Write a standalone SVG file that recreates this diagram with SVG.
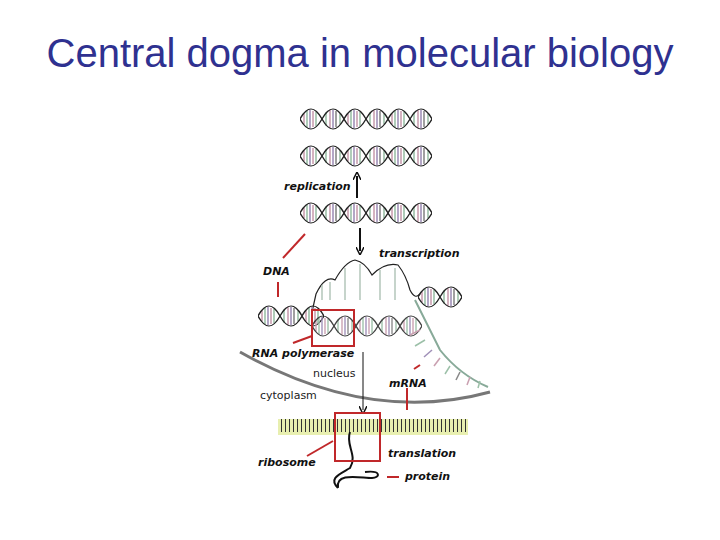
<svg xmlns="http://www.w3.org/2000/svg" width="720" height="540" viewBox="0 0 720 540">
<style>
.lab{font-family:"DejaVu Sans",sans-serif;font-size:11px;font-weight:bold;font-style:italic;fill:#111}
.reg{font-family:"DejaVu Sans",sans-serif;font-size:11px;fill:#222}
.red{stroke:#c0282a;stroke-width:2;fill:none}
.st{fill:none;stroke:#222;stroke-width:1.2}
</style>
<defs>
<pattern id="helix" x="0" y="0" width="22" height="24" patternUnits="userSpaceOnUse" patternTransform="scale(2,1)">
<line x1="2" y1="7" x2="2" y2="17" stroke="#c9a0b0" stroke-width="0.8"/>
<line x1="3.5" y1="4" x2="3.5" y2="20" stroke="#9cc0a8" stroke-width="0.8"/>
<line x1="5" y1="3" x2="5" y2="21" stroke="#a090b8" stroke-width="0.8"/>
<line x1="6.5" y1="4" x2="6.5" y2="20" stroke="#c9a0b0" stroke-width="0.8"/>
<line x1="8" y1="5" x2="8" y2="19" stroke="#9cc0a8" stroke-width="0.8"/>
<line x1="13" y1="5" x2="13" y2="19" stroke="#9cc0a8" stroke-width="0.8"/>
<line x1="15" y1="3" x2="15" y2="21" stroke="#c9a0b0" stroke-width="0.8"/>
<line x1="16.5" y1="3" x2="16.5" y2="21" stroke="#a090b8" stroke-width="0.8"/>
<line x1="18" y1="4" x2="18" y2="20" stroke="#888" stroke-width="0.8"/>
<line x1="20" y1="7" x2="20" y2="17" stroke="#9cc0a8" stroke-width="0.8"/>
<path d="M0,12 Q5.5,-8 11,12 Q16.5,32 22,12" fill="none" stroke="#222" stroke-width="0.8"/>
<path d="M0,12 Q5.5,32 11,12 Q16.5,-8 22,12" fill="none" stroke="#222" stroke-width="0.8"/>
</pattern>
<pattern id="ticks" x="0" y="0" width="4" height="16" patternUnits="userSpaceOnUse">
<rect width="4" height="16" fill="#e8efb0"/>
<line x1="1.5" y1="3" x2="1.5" y2="16" stroke="#333" stroke-width="1"/>
</pattern>
<marker id="ah" markerWidth="8" markerHeight="8" refX="4" refY="4" orient="auto" markerUnits="userSpaceOnUse">
<path d="M0,0 L8,4 L0,8" fill="none" stroke="#111" stroke-width="1.5"/>
</marker>
</defs>
<text x="360" y="67" text-anchor="middle" font-family="Liberation Sans,Arial,sans-serif" font-size="40" fill="#2f3190">Central dogma in molecular biology</text>

<rect width="132" height="24" fill="url(#helix)" transform="translate(300,107)"/>
<rect width="132" height="24" fill="url(#helix)" transform="translate(300,144)"/>
<rect width="132" height="24" fill="url(#helix)" transform="translate(300,201)"/>

<line x1="357" y1="198" x2="357" y2="176" stroke="#111" stroke-width="2" marker-end="url(#ah)"/>
<line x1="360" y1="228" x2="360" y2="251" stroke="#111" stroke-width="2" marker-end="url(#ah)"/>

<!-- transcription bubble -->
<path d="M312,312 L316,294 Q325,275 335,280 Q345,262 355,260 Q365,262 372,275 Q385,262 398,265 Q406,275 410,290 Q415,300 420,294" class="st"/>
<g stroke="#a0b8a8" stroke-width="1.2"><line x1="322" y1="285" x2="322" y2="300"/><line x1="330" y1="282" x2="330" y2="300"/><line x1="345" y1="268" x2="345" y2="300"/><line x1="360" y1="264" x2="360" y2="300"/><line x1="380" y1="270" x2="380" y2="300"/><line x1="395" y1="268" x2="395" y2="300"/></g>
<rect width="66" height="24" fill="url(#helix)" transform="translate(258,304)"/>
<rect width="44" height="24" fill="url(#helix)" transform="translate(418,285)"/>
<rect width="110" height="24" fill="url(#helix)" opacity="0.85" transform="translate(312,314)"/>
<path d="M415,300 Q430,330 440,350 Q460,375 488,387" fill="none" stroke="#8a9" stroke-width="2"/>
<g stroke-width="1.5"><line x1="420" y1="330" x2="410" y2="335" stroke="#c9a0b0"/><line x1="425" y1="340" x2="415" y2="346" stroke="#9cc0a8"/><line x1="432" y1="350" x2="424" y2="357" stroke="#a090b8"/><line x1="440" y1="358" x2="434" y2="366" stroke="#c9a0b0"/><line x1="450" y1="366" x2="445" y2="374" stroke="#9cc0a8"/><line x1="460" y1="372" x2="456" y2="380" stroke="#888"/><line x1="470" y1="377" x2="467" y2="385" stroke="#c9a0b0"/><line x1="480" y1="381" x2="478" y2="388" stroke="#9cc0a8"/></g>

<path d="M240,352 Q370,425 490,392" fill="none" stroke="#777" stroke-width="3"/>
<rect x="278" y="419" width="190" height="16" fill="url(#ticks)"/>

<path d="M350,432 C345,445 358,455 350,468 C340,474 328,478 338,488 M338,488 C335,472 360,478 372,478 C380,478 382,470 365,472" fill="none" stroke="#111" stroke-width="2"/>
<line x1="363" y1="352" x2="363" y2="410" stroke="#111" stroke-width="1" marker-end="url(#ah)"/>

<rect x="312" y="310" width="42" height="36" class="red"/>
<rect x="335" y="413" width="45" height="48" class="red"/>
<g class="red"><line x1="305" y1="234" x2="283" y2="258"/><line x1="278" y1="282" x2="278" y2="297"/><line x1="293" y1="343" x2="312" y2="336"/><line x1="414" y1="369" x2="420" y2="365"/><line x1="407" y1="388" x2="407" y2="410"/><line x1="307" y1="456" x2="333" y2="441"/><line x1="387" y1="477" x2="399" y2="477"/></g>

<text x="284" y="190" class="lab">replication</text>
<text x="379" y="257" class="lab">transcription</text>
<text x="263" y="275" class="lab">DNA</text>
<text x="252" y="357" class="lab">RNA polymerase</text>
<text x="313" y="377" class="reg">nucleus</text>
<text x="260" y="399" class="reg">cytoplasm</text>
<text x="389" y="387" class="lab">mRNA</text>
<text x="388" y="457" class="lab">translation</text>
<text x="258" y="466" class="lab">ribosome</text>
<text x="405" y="480" class="lab">protein</text>
</svg>
